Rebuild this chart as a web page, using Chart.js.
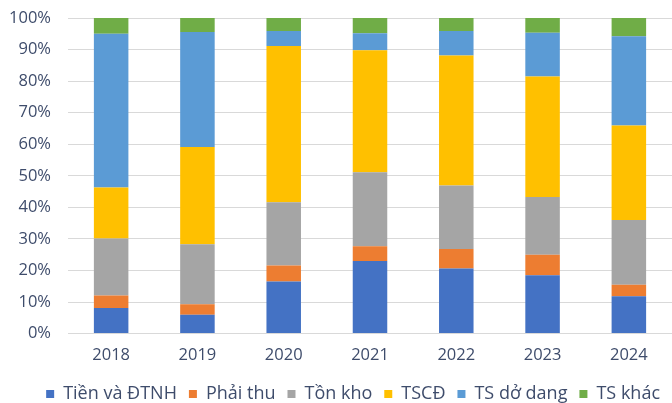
<!DOCTYPE html>
<html>
<head>
<meta charset="utf-8">
<script src="https://cdn.jsdelivr.net/npm/chart.js@4/dist/chart.umd.min.js"></script>
<style>
  html, body { margin: 0; padding: 0; background: #fff; }
  #wrap { width: 672px; height: 403px; position: relative; }
</style>
</head>
<body>
<div id="wrap"><canvas id="chart"></canvas></div>
<script>
// % cơ cấu tài sản theo năm
var years = ['2018', '2019', '2020', '2021', '2022', '2023', '2024'];
var tienDTNH = [8.1, 6.0, 16.5, 23.0, 20.6, 18.5, 11.8];
var phaiThu = [4.0, 3.3, 5.1, 4.7, 6.2, 6.5, 3.7];
var tonKho = [18.0, 19.0, 20.0, 23.4, 20.1, 18.3, 20.5];
var tscd = [16.2, 30.8, 49.5, 38.7, 41.2, 38.2, 29.9];
var tsDoDang = [48.7, 36.5, 4.8, 5.4, 7.8, 13.8, 28.3];
var tsKhac = [5.0, 4.4, 4.1, 4.8, 4.1, 4.7, 5.8];

var textColor = '#3e4c6b';
Chart.defaults.font.family = '"Open Sans", "Noto Sans", sans-serif';
Chart.defaults.font.size = 16.5;
Chart.defaults.color = textColor;

function ds(label, data, color) {
    return {
        label: label,
        data: data,
        backgroundColor: color,
        borderWidth: 0,
        barPercentage: 0.4,
        categoryPercentage: 1.0
    };
}

new Chart('chart', {
    type: 'bar',
    data: {
        labels: years,
        datasets: [
            ds('Tiền và ĐTNH', tienDTNH, '#4472c4'),
            ds('Phải thu', phaiThu, '#ed7d31'),
            ds('Tồn kho', tonKho, '#a5a5a5'),
            ds('TSCĐ', tscd, '#ffc000'),
            ds('TS dở dang', tsDoDang, '#5b9bd5'),
            ds('TS khác', tsKhac, '#70ad47')
        ]
    },
    options: {
        responsive: true,
        maintainAspectRatio: false,
        animation: false,
        layout: {
            padding: { top: 0, left: 0, right: 0, bottom: -10 }
        },
        plugins: {
            legend: {
                position: 'bottom',
                align: 'end',
                labels: {
                    boxWidth: 8,
                    boxHeight: 8,
                    padding: 12,
                    color: textColor,
                    font: { size: 18 }
                }
            },
            tooltip: { enabled: false }
        },
        scales: {
            x: {
                stacked: true,
                grid: { display: false, drawTicks: false },
                border: { display: false },
                ticks: { padding: 12, color: textColor },
                afterFit: function (scale) { scale.height = 39.4; }
            },
            y: {
                stacked: true,
                min: 0,
                max: 100,
                grid: { color: '#d9d9d9', lineWidth: 1, drawTicks: false },
                border: { display: false },
                ticks: {
                    stepSize: 10,
                    padding: 17,
                    color: textColor,
                    callback: function (v) { return v + '%'; }
                },
                afterFit: function (scale) {
                    scale.width = 68;
                    scale.paddingTop = 18;
                    scale.paddingBottom = 0;
                }
            }
        }
    }
});
</script>
</body>
</html>
